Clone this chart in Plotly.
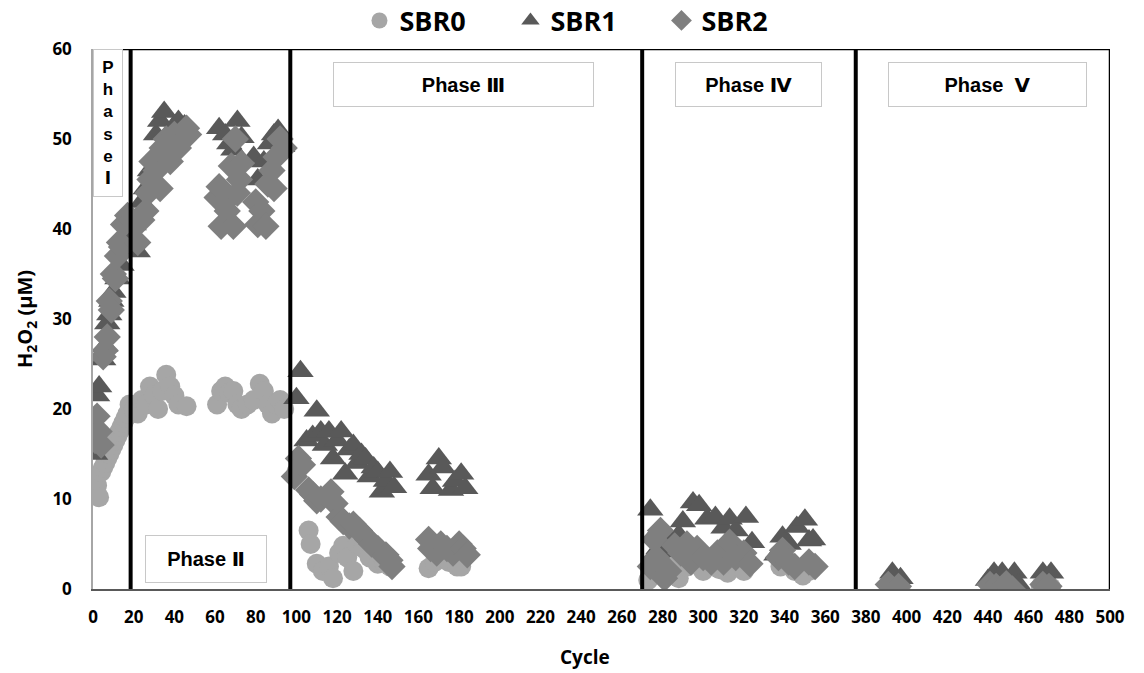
import plotly.graph_objects as go

# ---- H2O2 concentration per cycle, three reactors ----
sbr0_cycle = [1, 2, 3, 4, 5, 6, 7, 8, 9, 10, 11, 12, 13, 14, 15, 16, 17, 18,
              20, 22, 24, 26, 28, 30, 32, 34, 36, 38, 40, 42, 46,
              61, 63, 65, 67, 69, 71, 73, 76, 79, 82, 84, 86, 88, 90, 92, 94,
              100, 106, 107, 110, 113, 116, 118, 121, 123, 125, 128, 130, 133, 136, 140, 143, 146,
              165, 168, 172, 175, 179, 181,
              273, 276, 280, 284, 288, 292, 296, 300, 304, 308, 312, 316, 320, 338, 341, 345, 349, 352,
              392, 397, 441, 445, 452, 466, 471]
sbr0_h2o2 = [12.5, 11.5, 10.2, 13.0, 13.5, 14.0, 14.5, 15.0, 15.5, 16.0, 16.5, 17.0, 17.5, 18.0, 18.5, 19.0, 19.5, 20.5,
             20.0, 19.5, 21.0, 20.5, 22.5, 21.5, 20.0, 22.0, 23.8, 22.5, 21.5, 20.5, 20.3,
             20.5, 22.0, 22.5, 21.8, 22.0, 20.5, 20.0, 20.5, 21.0, 22.8, 22.0, 20.5, 19.5, 20.5, 21.0, 20.0,
             13.0, 6.5, 5.0, 2.8, 2.0, 2.5, 1.2, 4.0, 4.8, 3.5, 2.0, 5.0, 4.5, 3.5, 2.8, 3.0, 2.5,
             2.3, 3.0, 3.5, 3.0, 2.5, 2.5,
             1.0, 2.5, 2.0, 3.0, 1.2, 2.5, 3.0, 2.0, 3.0, 2.2, 1.8, 2.5, 2.0, 2.5, 3.0, 2.0, 1.5, 2.0,
             0.3, 0.2, 0.3, 0.2, 0.3, 0.3, 0.2]

sbr1_cycle = [1, 2, 3, 5, 6, 7, 8, 9, 10, 12, 14, 16, 18,
              20, 22, 24, 26, 28, 30, 31, 33, 35, 37, 40, 42, 45,
              62, 65, 67, 69, 71, 73, 79, 81, 84, 87, 89, 91, 93,
              100, 102, 105, 108, 110, 112, 114, 116, 118, 120, 122, 124, 126, 128, 130, 132, 134,
              136, 138, 140, 142, 144, 146, 148,
              165, 167, 170, 172, 176, 178, 181, 183,
              274, 276, 278, 280, 282, 284, 288, 290, 295, 298, 302, 306, 310, 313, 316, 321, 324,
              336, 339, 342, 346, 350, 352, 354,
              393, 397, 440, 443, 447, 453, 455, 467, 471]
sbr1_h2o2 = [15.0, 21.5, 22.5, 25.5, 27.0, 29.5, 30.5, 32.0, 33.0, 34.5, 36.0, 38.0, 39.0,
             40.5, 37.5, 43.0, 44.5, 46.5, 48.0, 50.5, 52.0, 53.0, 50.5, 51.5, 52.0, 51.5,
             51.2, 50.5, 49.5, 48.8, 52.0, 50.2, 48.0, 45.5, 47.5, 49.5, 50.5, 51.0, 49.2,
             21.2, 24.2, 16.5, 17.0, 19.8, 17.5, 16.0, 17.5, 14.5, 16.5, 17.5, 12.8, 15.5, 16.0, 14.0, 15.0, 14.5,
             12.5, 13.5, 13.0, 10.8, 12.0, 13.0, 11.3,
             12.7, 11.2, 14.5, 13.5, 11.0, 12.0, 12.8, 11.2,
             8.8, 6.0, 4.5, 3.0, 4.2, 5.5, 6.0, 7.5, 9.6, 9.3, 7.8, 8.0, 6.8, 7.8, 6.5, 8.0, 5.2,
             3.8, 5.8, 5.0, 6.9, 7.7, 5.4, 5.5,
             1.8, 1.2, 1.0, 1.8, 1.8, 1.8, 0.5, 1.8, 1.8]

sbr2_cycle = [1, 2, 3, 4, 5, 6, 7, 8, 9, 10, 11, 12, 13, 14, 15, 17,
              19, 21, 22, 24, 26, 27, 28, 29, 31, 32, 33, 34, 36, 38, 40, 42, 44, 46, 47,
              61, 62, 63, 65, 66, 68, 69, 70, 71, 72, 73, 80, 81, 83, 85, 86, 88, 89, 90, 92, 94,
              99, 101, 103, 106, 108, 110, 112, 117, 119, 121, 123, 126, 128, 131, 133, 135, 137,
              140, 142, 144, 146, 147,
              165, 166, 169, 171, 174, 177, 180, 182, 184,
              274, 276, 277, 279, 281, 283, 286, 289, 292, 294, 297, 300, 304, 307, 310, 313, 316,
              320, 323, 337, 339, 342, 345, 352, 355,
              391, 396, 441, 444, 449, 452, 467, 470]
sbr2_h2o2 = [16.5, 19.2, 17.5, 16.0, 25.8, 26.5, 28.0, 32.0, 31.0, 35.0, 34.5, 37.0, 38.5, 38.0, 40.5, 41.5,
             41.0, 40.5, 38.5, 41.0, 42.0, 44.0, 45.5, 47.5, 46.5, 48.0, 44.5, 49.0, 50.0, 47.5, 50.5, 49.0, 50.0, 51.2, 50.5,
             43.5, 44.7, 40.3, 43.0, 42.0, 47.0, 40.3, 50.0, 44.0, 45.5, 47.3, 43.0, 40.5, 42.0, 40.3, 45.0, 46.5, 44.5, 48.0, 50.0, 49.0,
             12.5, 14.5, 13.8, 11.0, 10.5, 9.8, 10.0, 10.8, 9.5, 8.0, 7.5, 7.0, 7.2, 6.5, 6.0, 5.5, 5.0,
             4.5, 4.0, 3.8, 3.2, 2.5,
             5.5, 4.5, 4.0, 5.0, 4.5, 4.0, 5.0, 4.5, 3.8,
             2.5, 5.5, 3.5, 6.5, 1.2, 2.0, 4.8, 4.0, 5.0, 3.0, 4.5, 3.5, 3.0, 4.0, 3.0, 5.2, 3.5,
             4.0, 2.8, 3.5, 4.3, 3.0, 2.5, 3.0, 2.5,
             0.5, 0.3, 0.5, 0.3, 0.6, 0.0, 0.5, 0.3]

# phase boundaries (cycle numbers) and phase labels
phase_bounds = [18.5, 97, 270, 375]
phase_labels = ["P<br>h<br>a<br>s<br>e<br>Ⅰ", "Phase Ⅱ", "Phase Ⅲ", "Phase Ⅳ", "Phase  Ⅴ"]

x_ticks = list(range(0, 501, 20))
y_ticks = list(range(0, 61, 10))

FONT = "Open Sans, Noto Sans CJK JP, DejaVu Sans, sans-serif"
PHASE_FONT = "Liberation Sans, DejaVu Sans, sans-serif"

fig = go.Figure()
series = [
    ("SBR0", sbr0_cycle, sbr0_h2o2, "circle", "#a6a6a6", 20),
    ("SBR1", sbr1_cycle, sbr1_h2o2, "triangle-up", "#595959", 23),
    ("SBR2", sbr2_cycle, sbr2_h2o2, "diamond", "#7f7f7f", 21),
]
for name, xs, ys, sym, col, size in series:
    fig.add_trace(go.Scatter(
        x=xs, y=ys, mode="markers", name=f"<b>{name}</b>",
        marker=dict(symbol=sym, color=col, size=size, line=dict(width=0)),
    ))

# phase divider lines
for xb in phase_bounds:
    fig.add_shape(type="line", xref="x", yref="y", x0=xb, x1=xb, y0=0, y1=60,
                  line=dict(color="black", width=4))
# top and right frame
fig.add_shape(type="line", xref="x", yref="y", x0=0, x1=500, y0=60, y1=60,
              line=dict(color="black", width=2.5))
fig.add_shape(type="line", xref="x", yref="y", x0=500, x1=500, y0=0, y1=60,
              line=dict(color="black", width=2.5))

# phase label boxes: (x, y, width, height, font size)
box_specs = [
    (7.4, 51.8, 28, 146, 17),
    (55.5, 3.3, 120, 46, 20),
    (182.0, 56.1, 259, 43, 20),
    (322.4, 56.1, 145, 43, 20),
    (439.8, 56.1, 197, 43, 20),
]
for label, (bx, by, bw, bh, fs) in zip(phase_labels, box_specs):
    fig.add_annotation(
        x=bx, y=by, xref="x", yref="y", text=f"<b>{label}</b>", showarrow=False,
        width=bw, height=bh, borderpad=0, bgcolor="white",
        bordercolor="#c8c8c8", borderwidth=1,
        font=dict(family=PHASE_FONT, size=fs, color="black"), align="center", valign="middle",
    )

# x axis title
fig.add_annotation(x=0.484, y=(589 - 657) / 540, xref="paper", yref="paper",
                   text="<b>Cycle</b>", showarrow=False, yanchor="middle",
                   font=dict(family=FONT, size=19, color="black"))

fig.update_layout(
    width=1144, height=673,
    margin=dict(l=93, r=34, t=49, b=84, autoexpand=False),
    paper_bgcolor="white", plot_bgcolor="white",
    font=dict(family=FONT, color="black"),
    showlegend=True,
    legend=dict(orientation="h", x=0.262, xanchor="left", y=1.052, yanchor="middle",
                font=dict(family=FONT, size=27, color="black"),
                entrywidth=106, itemsizing="trace", bgcolor="rgba(0,0,0,0)"),
    xaxis=dict(range=[0, 500], tickvals=x_ticks, ticktext=[f"<b>{v}</b>" for v in x_ticks],
               showgrid=False, zeroline=False, showline=True, linecolor="#595959", linewidth=1.5,
               ticks="", tickfont=dict(family=FONT, size=17, color="black"), ticklabelstandoff=12),
    yaxis=dict(range=[0, 60], tickvals=y_ticks, ticktext=[f"<b>{v}</b>" for v in y_ticks],
               showgrid=False, zeroline=False, showline=True, linecolor="#a6a6a6", linewidth=1.5,
               ticks="", tickfont=dict(family=FONT, size=17, color="black"), ticklabelstandoff=16,
               title=dict(text="<b>H<sub>2</sub>O<sub>2</sub> (μM)</b>",
                          font=dict(family=FONT, size=20, color="black"), standoff=14)),
)

fig.write_html("out.html")
